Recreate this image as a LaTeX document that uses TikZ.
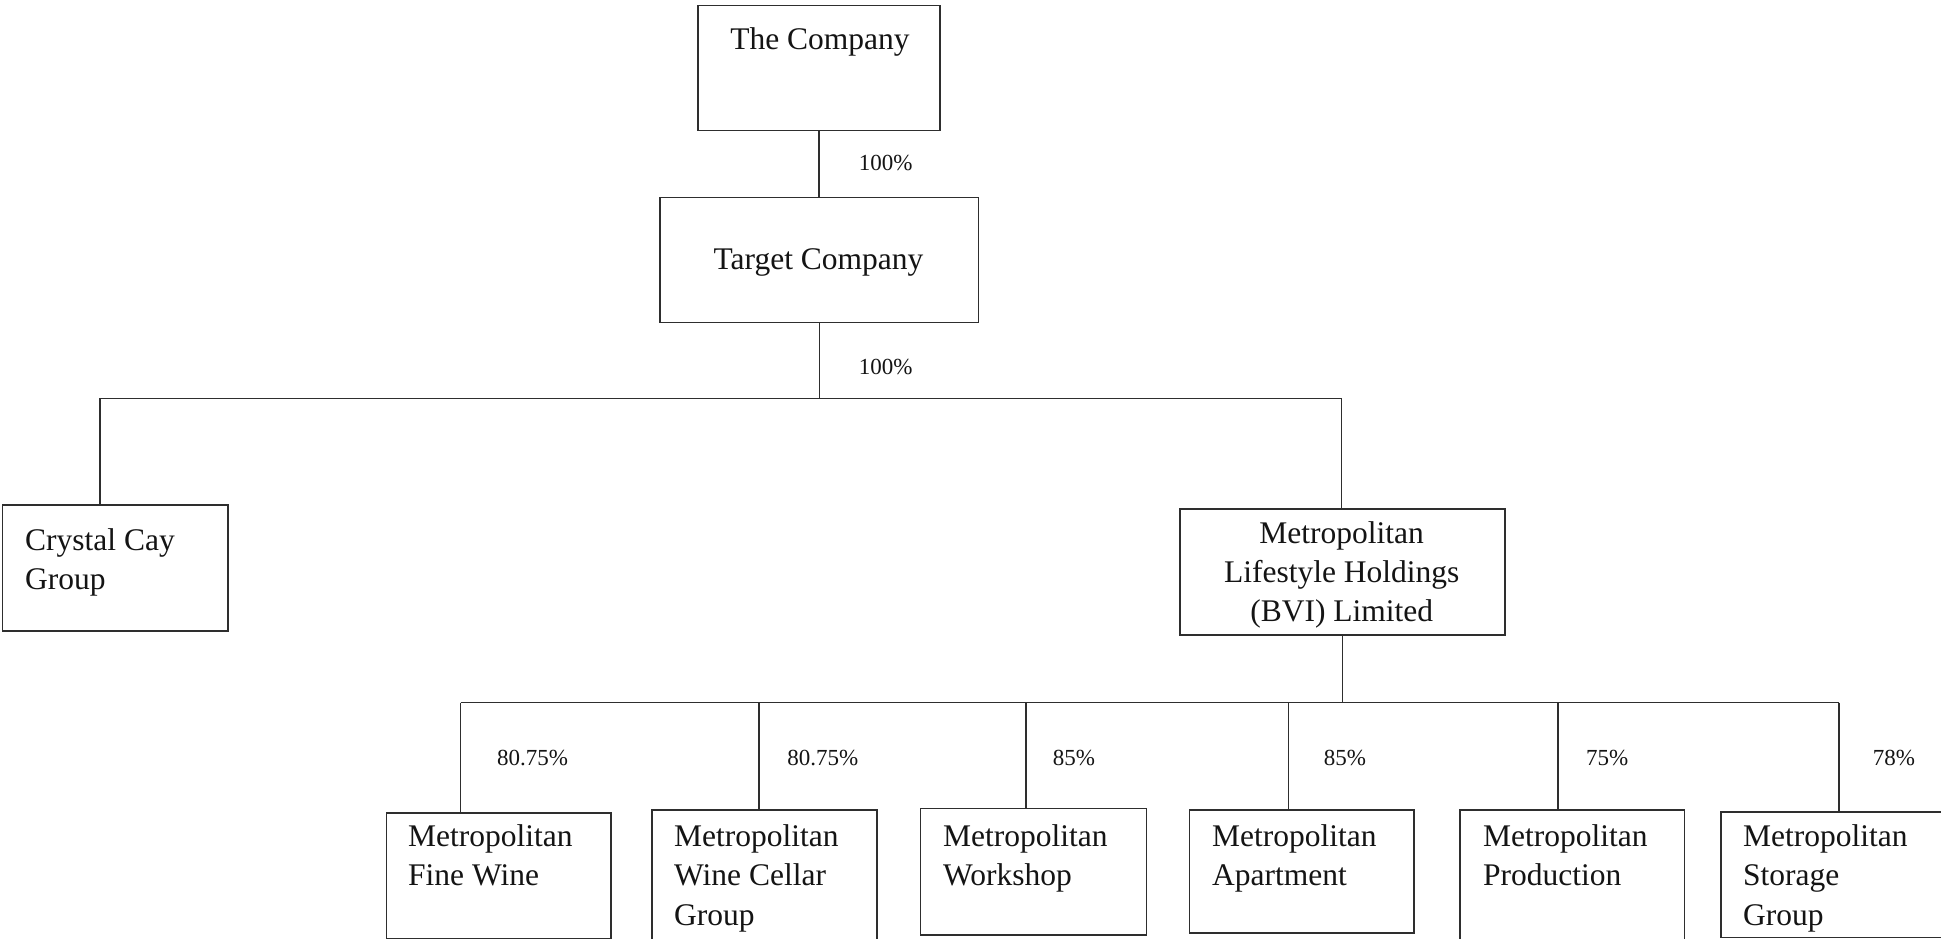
\documentclass[tikz,border=0pt]{standalone}
\usepackage{fontspec}
\setmainfont{Liberation Serif}
\newcommand\leftlines[1]{\vtop{\halign{##\hfil\cr#1\crcr}}}
\newcommand\centerlines[1]{\vtop{\halign{\hfil##\hfil\cr#1\crcr}}}
\begin{document}
\begin{tikzpicture}[x=1pt,y=-1pt,
  orgbox/.style={draw=black!82, line width=1.5pt, rectangle, inner sep=0pt, anchor=north west},
  boxtext/.style={font=\fontsize{31.5}{39.2}\selectfont, inner sep=0pt, text=black!92},
  pctlabel/.style={font=\fontsize{23}{27}\selectfont, inner sep=0pt, text=black!92},
  wire/.style={draw=black!82, line width=1.5pt}]
\clip (0,0) rectangle (1941,939);
\fill[white] (0,0) rectangle (1941,939);
% top levels
\node[orgbox, minimum width=242, minimum height=125.3] (co) at (697.3,4.7) {};
\node[boxtext, anchor=base] (cot) at (820,50) {The Company};
\node[orgbox, minimum width=318.4, minimum height=125] (tg) at (659.3,196.7) {};
\node[boxtext, anchor=base] (tgt) at (818.5,269.3) {Target Company};
\node[pctlabel] (p1) at (885.7,163.3) {100\%};
\node[pctlabel] (p2) at (885.7,366.7) {100\%};
\draw[wire] (co.south) -- (co.south |- tg.north);
% second level
\node[orgbox, minimum width=225.6, minimum height=125.7] (cc) at (1.7,504.3) {};
\node[boxtext, anchor=base west] (cct) at (25,550) {\leftlines{Crystal Cay\cr Group}};
\node[orgbox, minimum width=324.7, minimum height=125.7] (bvi) at (1179.3,508.3) {};
\node[boxtext, anchor=base] (bvit) at (1341.7,543.3) {\centerlines{Metropolitan\cr Lifestyle Holdings\cr (BVI) Limited}};
\coordinate (hl) at (100,398.6);
\coordinate (hr) at (1341.7,398.6);
\draw[wire] (tg.south) -- (tg.south |- hl);
\draw[wire] (cc.north -| hl) -- (hl) -- (hr) -- (bvi.north -| hr);
% third level
\node[orgbox, minimum width=224.5, minimum height=125.4] (fw) at (385.8,812.3) {};
\node[orgbox, minimum width=225.2, minimum height=160] (wc) at (651.1,809.3) {};
\node[orgbox, minimum width=225.8, minimum height=126.6] (ws) at (919.9,807.7) {};
\node[orgbox, minimum width=224.5, minimum height=123] (ap) at (1188.8,809.3) {};
\node[orgbox, minimum width=224.4, minimum height=160] (pr) at (1459.1,809.3) {};
\node[orgbox, minimum width=225, minimum height=125.7] (st) at (1720,811) {};
\node[boxtext, anchor=base west] (fwt) at (408,846.7) {\leftlines{Metropolitan\cr Fine Wine}};
\node[boxtext, anchor=base west] (wct) at (674,846.7) {\leftlines{Metropolitan\cr Wine Cellar\cr Group}};
\node[boxtext, anchor=base west] (wst) at (943,846.7) {\leftlines{Metropolitan\cr Workshop}};
\node[boxtext, anchor=base west] (apt) at (1212,846.7) {\leftlines{Metropolitan\cr Apartment}};
\node[boxtext, anchor=base west] (prt) at (1483,846.7) {\leftlines{Metropolitan\cr Production}};
\node[boxtext, anchor=base west] (stt) at (1743,846.7) {\leftlines{Metropolitan\cr Storage\cr Group}};
\coordinate (b1) at (460.5,702.7);
\coordinate (b2) at (759,702.7);
\coordinate (b3) at (1026.2,702.7);
\coordinate (b4) at (1288.4,702.7);
\coordinate (b5) at (1558,702.7);
\coordinate (b6) at (1838.9,702.7);
\draw[wire] (bvi.south) -- (bvi.south |- b1);
\draw[wire] (b1) -- (b6);
\draw[wire] (b1) -- (b1 |- fw.north);
\draw[wire] (b2) -- (b2 |- wc.north);
\draw[wire] (b3) -- (b3 |- ws.north);
\draw[wire] (b4) -- (b4 |- ap.north);
\draw[wire] (b5) -- (b5 |- pr.north);
\draw[wire] (b6) -- (b6 |- st.north);
\node[pctlabel] (q1) at (532.5,758.3) {80.75\%};
\node[pctlabel] (q2) at (822.7,758.3) {80.75\%};
\node[pctlabel] (q3) at (1074,758.3) {85\%};
\node[pctlabel] (q4) at (1344.9,758.3) {85\%};
\node[pctlabel] (q5) at (1607.2,758.3) {75\%};
\node[pctlabel] (q6) at (1894,758.3) {78\%};
\end{tikzpicture}
\end{document}
